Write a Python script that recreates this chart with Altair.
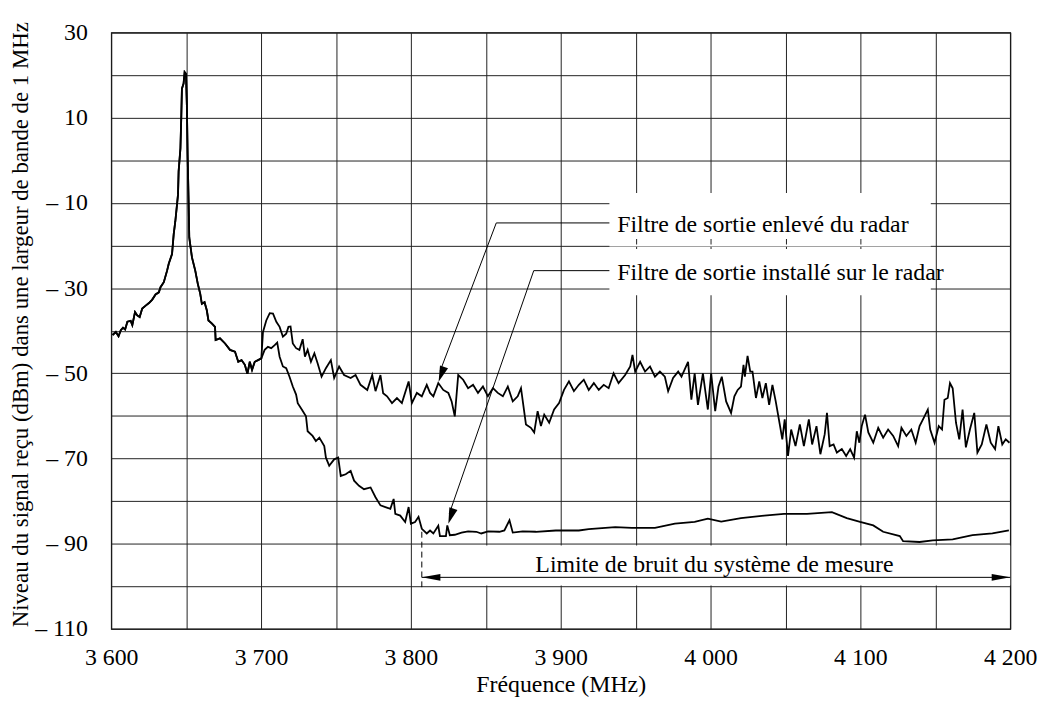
import altair as alt
import pandas as pd

# ---- data ----
shared_x = [3600.9, 3603.1, 3604.9, 3606.4, 3607.9, 3609.3, 3610.8, 3613.0, 3614.1, 3615.9, 3617.4, 3619.0,
            3620.7, 3623.0, 3625.2, 3627.4, 3629.6, 3631.8, 3632.9, 3635.1, 3637.3, 3638.4, 3640.6,
            3641.7, 3642.8, 3644.6, 3645.0, 3646.2, 3646.8, 3647.2, 3648.3, 3649.0, 3649.9, 3650.5,
            3651.0, 3651.7, 3652.1, 3653.9, 3656.1, 3657.8, 3659.4, 3660.5, 3662.3, 3663.8,
            3664.9, 3667.1, 3669.3, 3669.7, 3672.6, 3676.0, 3679.3, 3682.6, 3684.8, 3687.0, 3689.2,
            3690.9, 3692.5, 3694.0, 3695.8, 3698.0, 3700.2]
shared_y = [-41.0, -40.3, -41.3, -39.9, -39.3, -39.7, -37.9, -37.7, -38.7, -35.6, -36.4, -36.8,
            -34.8, -34.1, -33.5, -32.7, -31.5, -31.0, -29.8, -28.6, -25.9, -24.3, -22.0,
            -17.4, -14.3, -8.0, -2.6, 2.8, 10.6, 16.8, 18.0, 20.7, 20.3, 12.9,
            1.3, -10.4, -18.1, -22.8, -25.9, -29.0, -31.3, -33.7, -33.3, -35.2,
            -37.6, -38.3, -39.1, -42.2, -41.8, -43.0, -44.5, -44.9, -47.3, -46.9, -48.0,
            -50.1, -47.3, -49.2, -47.3, -46.9, -46.5]

# "Filtre de sortie enlevé du radar"
removed_x = [3701.3, 3703.5, 3705.8, 3708.0, 3710.2, 3712.4, 3714.6, 3716.8, 3718.3, 3719.7, 3721.2, 3723.4,
             3725.6, 3727.8, 3729.3, 3731.1, 3733.3, 3735.6, 3737.7, 3740.4, 3743.3, 3746.6, 3748.8, 3752.1,
             3755.4, 3759.8, 3763.1, 3766.4, 3770.9, 3774.2, 3776.4, 3779.7, 3781.5, 3784.1, 3787.4, 3790.7,
             3794.0, 3798.5, 3800.7, 3804.0, 3807.3, 3810.6, 3812.8, 3815.0, 3818.3, 3821.6, 3825.0, 3827.2,
             3829.3, 3831.6, 3834.9, 3838.2, 3841.5, 3844.8, 3848.1, 3851.4, 3854.8, 3858.0, 3861.4, 3864.7,
             3868.0, 3871.3, 3873.5, 3876.8, 3880.1, 3882.3, 3884.6, 3886.8, 3889.0, 3892.3, 3895.6, 3898.9,
             3902.2, 3905.5, 3908.8, 3912.1, 3915.4, 3918.7, 3922.1, 3925.4, 3928.7, 3932.0, 3935.3, 3938.6,
             3943.0, 3946.4, 3947.9, 3949.7, 3953.0, 3956.3, 3959.6, 3962.9, 3966.2, 3969.5, 3971.7, 3975.0,
             3978.4, 3980.6, 3985.0, 3987.2, 3989.4, 3991.6, 3994.9, 3998.2, 4000.4, 4003.1, 4005.3, 4007.5,
             4010.4, 4013.7, 4015.9, 4018.1, 4020.3, 4022.0, 4022.9, 4024.7, 4026.5, 4028.0, 4030.3, 4032.5,
             4034.6, 4036.9, 4039.1, 4041.3, 4043.5, 4046.4, 4047.9, 4049.5, 4051.7, 4053.8, 4056.7, 4059.6,
             4062.3, 4065.6, 4067.8, 4070.7, 4073.3, 4076.2, 4077.7, 4079.5, 4082.1, 4084.3, 4087.6, 4090.5,
             4093.2, 4095.8, 4097.6, 4099.3, 4100.9, 4103.1, 4105.3, 4108.6, 4111.9, 4115.2, 4118.5, 4121.9,
             4125.2, 4127.4, 4130.7, 4134.0, 4136.9, 4139.5, 4142.2, 4145.0, 4146.6, 4149.5, 4152.3, 4154.5,
             4156.1, 4158.3, 4159.8, 4161.6, 4163.8, 4166.0, 4168.2, 4170.4, 4173.1, 4176.0, 4178.1, 4181.0,
             4184.1, 4187.0, 4189.9, 4192.1, 4194.7, 4197.0, 4199.5]
removed_y = [-40.3, -37.6, -35.9, -36.0, -37.9, -39.1, -41.4, -40.7, -39.1, -39.0, -43.0, -44.1,
             -44.5, -42.0, -46.1, -44.5, -47.3, -45.3, -47.6, -50.8, -48.8, -46.9, -51.1, -48.4,
             -50.4, -51.1, -50.4, -52.7, -53.9, -50.4, -54.2, -50.4, -54.7, -55.4, -57.0, -55.8,
             -57.0, -51.9, -57.0, -54.6, -55.4, -52.7, -54.6, -55.4, -52.3, -53.9, -54.6, -56.6,
             -60.1, -50.4, -51.5, -53.5, -52.7, -54.6, -53.1, -55.4, -53.5, -54.6, -55.4, -53.1,
             -56.6, -55.4, -53.5, -62.0, -62.8, -63.9, -58.9, -62.4, -59.7, -61.6, -58.5, -57.0,
             -53.9, -51.9, -54.2, -52.7, -51.5, -53.9, -52.3, -53.9, -52.7, -53.5, -50.0, -52.3,
             -50.4, -48.4, -45.7, -49.6, -47.3, -49.6, -48.4, -50.8, -49.6, -50.8, -54.2, -51.1,
             -49.6, -50.8, -47.3, -56.2, -50.0, -57.4, -50.0, -58.5, -50.0, -58.9, -53.1, -50.8,
             -56.6, -59.3, -55.4, -53.9, -53.1, -48.0, -50.8, -45.9, -49.6, -49.6, -55.8, -51.9,
             -55.8, -52.3, -57.4, -52.7, -56.6, -62.4, -65.5, -60.8, -69.4, -63.2, -67.1, -62.0,
             -67.1, -60.8, -66.7, -62.4, -69.0, -64.3, -59.3, -67.1, -66.7, -68.6, -67.8, -69.4,
             -67.8, -69.8, -63.6, -66.3, -62.4, -59.7, -63.9, -66.3, -62.8, -65.1, -63.2, -64.7,
             -67.1, -62.8, -64.7, -63.2, -66.3, -62.4, -60.5, -58.5, -63.2, -66.3, -62.4, -63.2,
             -56.2, -55.8, -52.3, -53.5, -61.6, -65.5, -58.5, -67.4, -63.2, -59.3, -68.6, -66.7,
             -62.0, -66.3, -67.8, -62.4, -66.7, -65.5, -66.3]

# "Filtre de sortie installé sur le radar"
installed_x = [3702.4, 3704.6, 3706.8, 3709.1, 3710.8, 3712.4, 3714.6, 3716.8, 3719.0, 3721.2, 3723.4, 3724.5,
               3727.2, 3730.0, 3731.1, 3734.4, 3736.6, 3738.9, 3742.2, 3743.3, 3745.5, 3748.8, 3751.5, 3753.2,
               3756.5, 3759.8, 3762.1, 3765.4, 3768.7, 3773.1, 3776.4, 3779.7, 3783.0, 3786.3, 3788.5, 3789.6,
               3792.9, 3796.2, 3798.5, 3800.0, 3802.8, 3805.1, 3807.3, 3810.6, 3812.8, 3815.0, 3818.3, 3819.4,
               3823.4, 3824.3, 3826.0, 3829.3, 3833.8, 3838.2, 3843.7, 3847.0, 3851.5, 3859.1, 3862.4, 3865.8,
               3868.0, 3874.6, 3883.4, 3896.7, 3912.1, 3918.7, 3936.4, 3947.5, 3962.9, 3976.2, 3989.4, 3998.2,
               4007.1, 4020.3, 4035.8, 4049.0, 4064.4, 4081.0, 4090.9, 4099.8, 4108.6, 4115.2, 4126.3, 4128.5,
               4139.5, 4148.3, 4161.6, 4174.8, 4188.1, 4199.1]
installed_y = [-44.5, -43.8, -44.1, -43.4, -42.8, -46.1, -48.4, -48.8, -50.8, -53.1, -55.0, -57.0,
               -58.5, -60.1, -63.6, -64.7, -65.9, -65.1, -67.1, -69.8, -71.7, -70.2, -69.8, -74.1,
               -73.7, -72.9, -75.2, -76.4, -77.2, -76.8, -79.1, -81.0, -81.4, -81.8, -79.5, -83.0,
               -83.4, -84.9, -81.4, -85.3, -84.9, -83.7, -86.5, -87.6, -86.9, -87.6, -85.8, -88.2,
               -88.2, -85.7, -88.0, -87.9, -87.4, -87.1, -87.2, -87.6, -87.1, -87.2, -86.9, -84.5,
               -87.4, -87.1, -87.2, -86.9, -86.9, -86.6, -86.1, -86.3, -86.3, -85.3, -84.9, -84.1,
               -84.8, -84.0, -83.4, -83.0, -83.0, -82.6, -84.0, -84.9, -85.7, -87.2, -88.2, -89.4,
               -89.6, -89.2, -89.0, -88.0, -87.6, -86.9]

series_names = ["Filtre de sortie enlevé du radar", "Filtre de sortie installé sur le radar"]
limit_label = "Limite de bruit du système de mesure"

x_ticks = list(range(3600, 4201, 50))
y_ticks = list(range(-110, 31, 10))

FONT = "Liberation Serif"
FS = 24

rows = []
for name, xs_, ys_ in [(series_names[0], shared_x + removed_x, shared_y + removed_y),
                       (series_names[1], shared_x + installed_x, shared_y + installed_y)]:
    for i, (a, b) in enumerate(zip(xs_, ys_)):
        rows.append({"serie": name, "f": a, "v": b, "i": i})
curves = pd.DataFrame(rows)

xs = alt.Scale(domain=[3600, 4200], nice=False, zero=False)
ys = alt.Scale(domain=[-110, 30], nice=False, zero=False)

x_axis = alt.Axis(values=x_ticks, ticks=False, domain=False, grid=True, gridColor="#222", gridWidth=1,
                  gridOpacity=1, labelExpr="datum.value % 100 == 0 ? replace(format(datum.value, ','), ',', ' ') : ''",
                  labelFont=FONT, labelFontSize=FS, labelColor="black", labelPadding=17, labelFlush=False,
                  labelOverlap=False, title="Fréquence (MHz)", titleFont=FONT, titleFontSize=FS,
                  titleFontWeight="normal", titleColor="black", titlePadding=3)
y_axis = alt.Axis(values=y_ticks, ticks=False, domain=False, grid=True, gridColor="#222", gridWidth=1,
                  gridOpacity=1,
                  labelExpr="abs(datum.value) % 20 == 10 ? (datum.value < 0 ? '– ' + abs(datum.value) : '' + datum.value) : ''",
                  labelFont=FONT, labelFontSize=FS, labelColor="black", labelPadding=24, labelFlush=False,
                  labelOverlap=False,
                  title="Niveau du signal reçu (dBm)  dans une largeur de bande de 1 MHz",
                  titleFont=FONT, titleFontSize=23, titleFontWeight="normal", titleColor="black",
                  titlePadding=2, titleY=294)

lines = alt.Chart(curves).mark_line(color="black", strokeWidth=1.8, strokeJoin="miter").encode(
    x=alt.X("f:Q", scale=xs, axis=x_axis),
    y=alt.Y("v:Q", scale=ys, axis=y_axis),
    detail="serie:N",
    order="i:Q",
)

# white label boxes
boxes = pd.DataFrame({
    "x1": [3932.5, 3932.5, 3807.3],
    "x2": [4147.0, 4147.0, 4200.0],
    "y1": [-7.7, -20.8, -90.4],
    "y2": [-18.5, -31.7, -99.8],
})
box_layer = alt.Chart(boxes).mark_rect(color="white").encode(
    x=alt.X("x1:Q", scale=xs), x2="x2:Q", y=alt.Y("y1:Q", scale=ys), y2="y2:Q")

mask = alt.Chart(pd.DataFrame({"x1": [3932.5], "x2": [4147.0], "y1": [-20.0]})).mark_rule(
    color="white", strokeWidth=2).encode(x=alt.X("x1:Q", scale=xs), x2="x2:Q", y=alt.Y("y1:Q", scale=ys))

# leader lines (elbow -> text, elbow -> tip) and the noise-limit arrow
segs = pd.DataFrame({
    "x1": [3857.0, 3857.0, 3882.0, 3882.0, 3807.3],
    "y1": [-14.7, -14.7, -25.9, -25.9, -97.9],
    "x2": [3932.5, 3819.5, 3932.5, 3825.6, 4200.0],
    "y2": [-14.7, -49.5, -25.9, -83.0, -97.9],
})
seg_layer = alt.Chart(segs).mark_rule(color="black", strokeWidth=1).encode(
    x=alt.X("x1:Q", scale=xs), y=alt.Y("y1:Q", scale=ys), x2="x2:Q", y2="y2:Q")

dash = alt.Chart(pd.DataFrame({"x1": [3807.3], "y1": [-87.2], "y2": [-100.2]})).mark_rule(
    color="black", strokeWidth=1, strokeDash=[6, 4]).encode(
    x=alt.X("x1:Q", scale=xs), y=alt.Y("y1:Q", scale=ys), y2="y2:Q")

heads = pd.DataFrame({"x": [3818.5, 3825.0], "y": [-52.0, -85.3], "a": [200.0, 198.6]})
head_layer = alt.Chart(heads).mark_point(
    shape="M0,0L-0.27,1L0.27,1Z", filled=True, color="black", opacity=1, size=1024, strokeWidth=0).encode(
    x=alt.X("x:Q", scale=xs), y=alt.Y("y:Q", scale=ys), angle=alt.Angle("a:Q", scale=None))

hheads = pd.DataFrame({"x": [3807.3, 4200.0], "y": [-97.9, -97.9], "a": [270.0, 90.0]})
hhead_layer = alt.Chart(hheads).mark_point(
    shape="M0,0L-0.18,1L0.18,1Z", filled=True, color="black", opacity=1, size=1400, strokeWidth=0).encode(
    x=alt.X("x:Q", scale=xs), y=alt.Y("y:Q", scale=ys), angle=alt.Angle("a:Q", scale=None))

texts = pd.DataFrame({
    "x": [3937.7, 3937.7],
    "y": [-16.8, -28.2],
    "t": series_names,
})
text_layer = alt.Chart(texts).mark_text(align="left", baseline="alphabetic", font=FONT, fontSize=FS,
                                        color="black").encode(
    x=alt.X("x:Q", scale=xs), y=alt.Y("y:Q", scale=ys), text="t:N")

limit_text = alt.Chart(pd.DataFrame({"x": [4002.6], "y": [-96.7], "t": [limit_label]})).mark_text(
    align="center", baseline="alphabetic", font=FONT, fontSize=FS, color="black").encode(
    x=alt.X("x:Q", scale=xs), y=alt.Y("y:Q", scale=ys), text="t:N")

chart = alt.layer(box_layer, mask, lines, seg_layer, dash, head_layer, hhead_layer, text_layer, limit_text).properties(
    width=906, height=601,
    autosize=alt.AutoSizeParams(type="none"),
    padding={"left": 104, "top": 22, "right": 29, "bottom": 75},
    background="white",
).configure(font=FONT).configure_view(stroke="black", strokeWidth=1.2)

chart.save("out.html", embed_options={"renderer": "svg", "actions": False})
